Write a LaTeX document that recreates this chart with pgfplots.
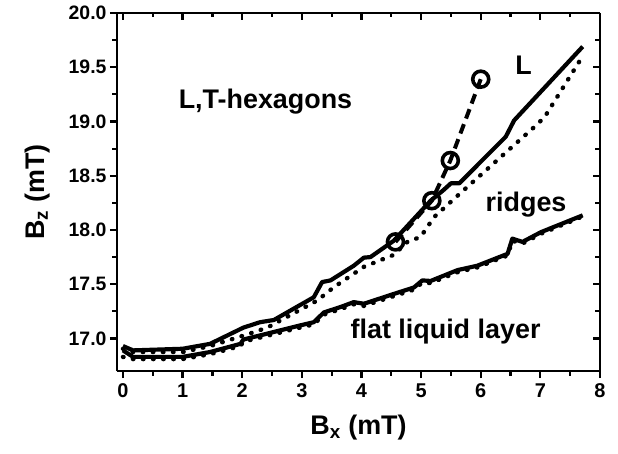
\documentclass[border=0pt]{standalone}
\usepackage{fontspec}
\setmainfont{Liberation Sans}
\usepackage{pgfplots}
\pgfplotsset{compat=1.18}

\pgfplotstableread{
x y
0.00 16.93
0.17 16.89
1.00 16.905
1.46 16.95
2.02 17.10
2.30 17.15
2.53 17.17
3.20 17.38
3.34 17.52
3.48 17.535
3.87 17.67
4.04 17.745
4.15 17.75
4.54 17.90
5.16 18.27
5.38 18.37
5.50 18.43
5.64 18.43
6.42 18.86
6.56 19.01
7.71 19.69
}\Lline

\pgfplotstableread{
x y
0.00 16.905
0.17 16.875
1.01 16.875
1.46 16.93
2.10 17.04
2.42 17.10
3.26 17.35
3.53 17.47
4.04 17.66
4.54 17.77
4.77 17.89
4.99 17.935
5.22 18.12
5.66 18.34
6.90 18.95
7.07 19.04
7.65 19.55
}\ridges

\pgfplotstableread{
x y
0.00 16.89
0.17 16.83
1.00 16.83
1.46 16.875
1.97 16.95
2.02 16.99
2.97 17.12
3.20 17.15
3.37 17.24
3.65 17.29
3.87 17.335
4.04 17.32
4.54 17.41
4.88 17.47
5.02 17.535
5.16 17.53
5.61 17.63
5.94 17.67
6.45 17.78
6.53 17.92
6.70 17.89
7.01 17.98
7.71 18.135
}\flat

\pgfplotstableread{
x y
0.00 16.83
0.17 16.81
1.00 16.81
1.46 16.855
1.97 16.93
2.02 16.97
2.97 17.10
3.20 17.13
3.37 17.22
3.65 17.27
3.87 17.315
4.04 17.30
4.54 17.39
4.88 17.45
5.02 17.515
5.16 17.51
5.61 17.61
5.94 17.655
6.45 17.765
6.53 17.90
6.70 17.875
7.01 17.965
7.71 18.125
}\flatdot

\pgfplotstableread{
x y
4.57 17.89
5.18 18.27
5.49 18.64
6.00 19.39
}\hex

\begin{document}
\begin{tikzpicture}
\path[use as bounding box] (-117bp,-83bp) rectangle (501bp,371bp);
\pgfplotsset{
  common/.style={
    scale only axis,
    width=483bp, height=358bp,
    xmin=-0.1, xmax=8, ymin=16.7, ymax=20.0,
    xtick={0,1,...,8},
    ytick={17.0,17.5,...,20.0},
    minor x tick num=1,
    minor y tick num=1,
    axis line style={line width=2.4pt},
    major tick length=7bp,
    minor tick length=4.5bp,
    every tick/.style={black, line width=2.2pt},
  }
}
\begin{axis}[
  common,
  axis x line*=bottom, axis y line*=left,
  axis line style={-},
  tick align=outside,
  font=\fontsize{19.5}{22}\selectfont\bfseries,
  /pgf/number format/assume math mode=true,
  yticklabel style={/pgf/number format/.cd, fixed, fixed zerofill, precision=1},
  xticklabel style={font=\fontsize{20}{22}\selectfont\bfseries, yshift=-2bp},
  xlabel={B\textsubscript{x} (mT)},
  ylabel={B\textsubscript{z} (mT)},
  xlabel style={font=\fontsize{27}{30}\selectfont\bfseries, yshift=-11bp},
  ylabel style={font=\fontsize{27}{30}\selectfont\bfseries, yshift=12bp},
  clip=false,
]
\addplot[black, line width=4.2pt, line join=round] table {\Lline};
\addplot[black, line width=4.4pt, line cap=round, dash pattern=on 0.6pt off 9.5bp] table {\ridges};
\addplot[black, line width=4.2pt, line join=round] table {\flat};
\addplot[black, line width=4.4pt, line cap=round, dash pattern=on 0.6pt off 9.5bp] table {\flatdot};
\addplot[black, line width=4pt, dash pattern=on 10bp off 6bp,
  mark=o, mark size=8bp, mark options={solid, fill=white, line width=3.6pt}] table {\hex};
\node[font=\fontsize{27}{30}\selectfont\bfseries] at (axis cs:6.72,19.52) {L};
\node[font=\fontsize{27}{30}\selectfont\bfseries] at (axis cs:2.39,19.18) {L,T-hexagons};
\node[font=\fontsize{27}{30}\selectfont\bfseries] at (axis cs:6.76,18.23) {ridges};
\node[font=\fontsize{27}{30}\selectfont\bfseries] at (axis cs:5.41,17.06) {flat liquid layer};
\end{axis}
\begin{axis}[
  common,
  axis x line*=top, axis y line*=right,
  axis line style={-},
  tick align=inside,
  xticklabels={}, yticklabels={},
]
\end{axis}
\end{tikzpicture}
\end{document}
